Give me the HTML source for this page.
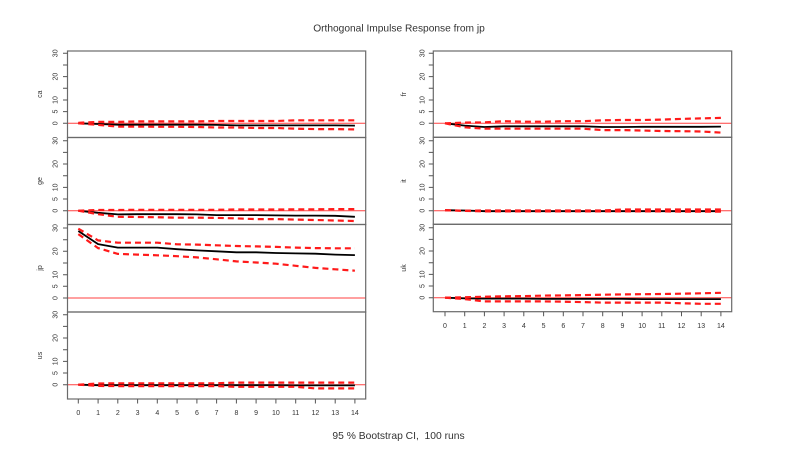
<!DOCTYPE html>
<html><head><meta charset="utf-8"><style>
html,body{margin:0;padding:0;background:#fff;}
svg{display:block;}
text{font-family:"Liberation Sans",Arial,sans-serif;fill:#333;}
.t{font-size:7px;}
.bx{fill:none;stroke:#6a6a6a;stroke-width:1.2;}
.tk{stroke:#555;stroke-width:1;}
.z{stroke:#ff4040;stroke-width:1;}
.b{fill:none;stroke:#000;stroke-width:1.8;stroke-linejoin:round;}
.r{fill:none;stroke:#ff1a1a;stroke-width:2.2;stroke-dasharray:6 4;}
</style></head><body>
<svg width="800" height="450" viewBox="0 0 800 450" xmlns="http://www.w3.org/2000/svg">
<rect width="800" height="450" fill="#fff"/>
<text x="399" y="31.5" font-size="10.2" text-anchor="middle">Orthogonal Impulse Response from jp</text>
<text x="398.5" y="439" font-size="10.3" text-anchor="middle">95 % Bootstrap CI, &#160;100 runs</text>

<!-- zero lines -->
<line class="z" x1="67.5" x2="365.7" y1="123.3" y2="123.3"/>
<line class="z" x1="67.5" x2="365.7" y1="210.7" y2="210.7"/>
<line class="z" x1="67.5" x2="365.7" y1="298" y2="298"/>
<line class="z" x1="67.5" x2="365.7" y1="384.7" y2="384.7"/>
<line class="z" x1="433.3" x2="731.7" y1="123.3" y2="123.3"/>
<line class="z" x1="433.3" x2="731.7" y1="210.7" y2="210.7"/>
<line class="z" x1="433.3" x2="731.7" y1="297.7" y2="297.7"/>

<!-- ca -->
<polyline class="b" points="78.3,123.3 98.1,124.0 117.8,124.7 137.6,124.7 157.3,124.7 177.1,124.7 196.9,124.7 216.6,124.9 236.4,125.4 256.1,125.4 275.9,125.4 295.7,125.4 315.4,125.4 335.2,125.4 354.9,125.6"/>
<polyline class="r" points="78.3,122.8 98.1,121.9 117.8,121.9 137.6,121.4 157.3,121.4 177.1,121.4 196.9,121.4 216.6,121.0 236.4,121.0 256.1,121.0 275.9,121.0 295.7,120.3 315.4,120.3 335.2,120.3 354.9,120.3"/>
<polyline class="r" points="78.3,123.3 98.1,124.9 117.8,126.6 137.6,126.6 157.3,126.8 177.1,126.8 196.9,127.0 216.6,127.5 236.4,127.5 256.1,128.0 275.9,128.0 295.7,128.7 315.4,129.1 335.2,129.1 354.9,129.4"/>
<!-- ge -->
<polyline class="b" points="78.3,210.7 98.1,212.8 117.8,214.4 137.6,214.2 157.3,214.2 177.1,214.2 196.9,214.4 216.6,215.1 236.4,215.1 256.1,215.1 275.9,215.4 295.7,215.6 315.4,215.6 335.2,215.8 354.9,216.8"/>
<polyline class="r" points="78.3,210.7 98.1,210.0 117.8,210.0 137.6,209.8 157.3,209.8 177.1,209.8 196.9,209.8 216.6,209.8 236.4,209.5 256.1,209.5 275.9,209.5 295.7,209.3 315.4,209.3 335.2,209.1 354.9,209.1"/>
<polyline class="r" points="78.3,210.7 98.1,214.2 117.8,216.8 137.6,217.0 157.3,217.2 177.1,217.7 196.9,217.7 216.6,217.9 236.4,218.4 256.1,219.1 275.9,219.1 295.7,219.6 315.4,220.0 335.2,220.5 354.9,221.0"/>
<!-- jp -->
<polyline class="b" points="78.3,231.0 98.1,244.1 117.8,247.6 137.6,247.6 157.3,247.6 177.1,249.2 196.9,250.4 216.6,251.3 236.4,252.3 256.1,252.3 275.9,253.0 295.7,253.4 315.4,253.7 335.2,254.6 354.9,255.1"/>
<polyline class="r" points="78.3,228.7 98.1,240.4 117.8,242.7 137.6,242.7 157.3,242.7 177.1,244.3 196.9,244.6 216.6,245.3 236.4,246.0 256.1,246.4 275.9,246.9 295.7,247.6 315.4,248.1 335.2,248.3 354.9,248.3"/>
<polyline class="r" points="78.3,234.1 98.1,248.1 117.8,253.9 137.6,254.6 157.3,255.3 177.1,256.2 196.9,257.4 216.6,259.3 236.4,261.4 256.1,262.5 275.9,263.7 295.7,265.8 315.4,267.9 335.2,269.3 354.9,270.7"/>
<!-- us -->
<polyline class="b" points="78.3,384.7 98.1,385.2 117.8,385.2 137.6,385.2 157.3,385.2 177.1,385.2 196.9,385.2 216.6,385.2 236.4,385.2 256.1,385.2 275.9,385.2 295.7,385.4 315.4,385.4 335.2,385.4 354.9,385.4"/>
<polyline class="r" points="78.3,384.7 98.1,383.5 117.8,383.3 137.6,383.3 157.3,383.3 177.1,383.3 196.9,383.3 216.6,383.3 236.4,382.6 256.1,382.6 275.9,382.6 295.7,382.6 315.4,382.6 335.2,382.6 354.9,382.6"/>
<polyline class="r" points="78.3,384.7 98.1,385.9 117.8,386.1 137.6,386.1 157.3,386.1 177.1,386.1 196.9,386.1 216.6,386.1 236.4,386.8 256.1,386.8 275.9,386.8 295.7,386.8 315.4,388.4 335.2,388.4 354.9,388.4"/>

<!-- fr -->
<polyline class="b" points="445,123.3 464.7,125.6 484.4,127.0 504.1,126.3 523.8,126.3 543.6,126.3 563.3,126.3 583,126.3 602.7,127.0 622.4,127.0 642.1,126.8 661.8,126.8 681.5,126.8 701.2,126.8 720.9,126.6"/>
<polyline class="r" points="445,123.3 464.7,122.6 484.4,122.4 504.1,121.2 523.8,121.7 543.6,121.7 563.3,121.2 583,121.2 602.7,120.3 622.4,120.0 642.1,120.0 661.8,119.6 681.5,118.9 701.2,118.4 720.9,117.9"/>
<polyline class="r" points="445,123.3 464.7,127.3 484.4,128.7 504.1,128.7 523.8,128.7 543.6,128.7 563.3,128.7 583,128.7 602.7,130.1 622.4,130.1 642.1,130.5 661.8,131.0 681.5,131.2 701.2,131.5 720.9,132.6"/>
<!-- it -->
<polyline class="b" points="445,210.2 464.7,210.5 484.4,211.2 504.1,211.2 523.8,211.2 543.6,211.2 563.3,211.2 583,211.2 602.7,211.2 622.4,211.2 642.1,211.2 661.8,211.2 681.5,211.2 701.2,211.2 720.9,211.2"/>
<polyline class="r" points="445,210.2 464.7,210.7 484.4,210.5 504.1,210.5 523.8,210.5 543.6,210.5 563.3,210.5 583,210.5 602.7,210.5 622.4,209.5 642.1,209.5 661.8,209.5 681.5,209.5 701.2,209.5 720.9,209.5"/>
<polyline class="r" points="445,210.2 464.7,210.9 484.4,211.4 504.1,211.4 523.8,211.4 543.6,211.4 563.3,211.4 583,211.4 602.7,211.4 622.4,211.4 642.1,211.4 661.8,211.4 681.5,211.6 701.2,211.6 720.9,211.6"/>
<!-- uk -->
<polyline class="b" points="445,297.7 464.7,298.4 484.4,298.6 504.1,298.6 523.8,298.6 543.6,298.9 563.3,298.9 583,298.9 602.7,298.9 622.4,298.9 642.1,299.1 661.8,299.1 681.5,299.1 701.2,299.1 720.9,299.1"/>
<polyline class="r" points="445,297.7 464.7,297.2 484.4,296.8 504.1,296.3 523.8,296.1 543.6,295.6 563.3,295.4 583,295.1 602.7,294.7 622.4,294.4 642.1,294.2 661.8,294.0 681.5,293.7 701.2,293.3 720.9,292.8"/>
<polyline class="r" points="445,297.7 464.7,299.1 484.4,301.4 504.1,301.4 523.8,301.4 543.6,301.4 563.3,301.7 583,302.1 602.7,302.6 622.4,302.6 642.1,302.6 661.8,302.6 681.5,303.3 701.2,303.8 720.9,303.8"/>

<!-- boxes -->
<rect class="bx" x="67.5" y="51" width="298.2" height="86.5"/>
<rect class="bx" x="67.5" y="137.5" width="298.2" height="87"/>
<rect class="bx" x="67.5" y="224.5" width="298.2" height="87.5"/>
<rect class="bx" x="67.5" y="312" width="298.2" height="87"/>
<rect class="bx" x="433.3" y="51" width="298.4" height="86.3"/>
<rect class="bx" x="433.3" y="137.3" width="298.4" height="87"/>
<rect class="bx" x="433.3" y="224.3" width="298.4" height="87.4"/>

<!-- y axes: left -->
<g class="tk">
<path d="M63,53.3H67.5M63,65H67.5M63,76.6H67.5M63,88.3H67.5M63,100H67.5M63,111.6H67.5M63,123.3H67.5"/>
<path d="M63,140.7H67.5M63,152.4H67.5M63,164H67.5M63,175.7H67.5M63,187.4H67.5M63,199H67.5M63,210.7H67.5"/>
<path d="M63,228H67.5M63,239.7H67.5M63,251.3H67.5M63,263H67.5M63,274.7H67.5M63,286.3H67.5M63,298H67.5"/>
<path d="M63,314.7H67.5M63,326.4H67.5M63,338H67.5M63,349.7H67.5M63,361.4H67.5M63,373H67.5M63,384.7H67.5"/>
<path d="M428.8,53.3H433.3M428.8,65H433.3M428.8,76.6H433.3M428.8,88.3H433.3M428.8,100H433.3M428.8,111.6H433.3M428.8,123.3H433.3"/>
<path d="M428.8,140.7H433.3M428.8,152.4H433.3M428.8,164H433.3M428.8,175.7H433.3M428.8,187.4H433.3M428.8,199H433.3M428.8,210.7H433.3"/>
<path d="M428.8,227.7H433.3M428.8,239.4H433.3M428.8,251H433.3M428.8,262.7H433.3M428.8,274.4H433.3M428.8,286H433.3M428.8,297.7H433.3"/>
<!-- x ticks -->
<path d="M78.3,399V403.5M98.1,399V403.5M117.8,399V403.5M137.6,399V403.5M157.3,399V403.5M177.1,399V403.5M196.9,399V403.5M216.6,399V403.5M236.4,399V403.5M256.1,399V403.5M275.9,399V403.5M295.7,399V403.5M315.4,399V403.5M335.2,399V403.5M354.9,399V403.5"/>
<path d="M445,311.7V316.2M464.7,311.7V316.2M484.4,311.7V316.2M504.1,311.7V316.2M523.8,311.7V316.2M543.6,311.7V316.2M563.3,311.7V316.2M583,311.7V316.2M602.7,311.7V316.2M622.4,311.7V316.2M642.1,311.7V316.2M661.8,311.7V316.2M681.5,311.7V316.2M701.2,311.7V316.2M720.9,311.7V316.2"/>
</g>

<!-- y tick labels left -->
<g class="t" text-anchor="middle">
<text transform="translate(57.5,53.3) rotate(-90)">30</text>
<text transform="translate(57.5,76.6) rotate(-90)">20</text>
<text transform="translate(57.5,100) rotate(-90)">10</text>
<text transform="translate(57.5,111.6) rotate(-90)">5</text>
<text transform="translate(57.5,123.3) rotate(-90)">0</text>

<text transform="translate(57.5,140.7) rotate(-90)">30</text>
<text transform="translate(57.5,164) rotate(-90)">20</text>
<text transform="translate(57.5,187.4) rotate(-90)">10</text>
<text transform="translate(57.5,199) rotate(-90)">5</text>
<text transform="translate(57.5,210.7) rotate(-90)">0</text>

<text transform="translate(57.5,228) rotate(-90)">30</text>
<text transform="translate(57.5,251.3) rotate(-90)">20</text>
<text transform="translate(57.5,274.7) rotate(-90)">10</text>
<text transform="translate(57.5,286.3) rotate(-90)">5</text>
<text transform="translate(57.5,298) rotate(-90)">0</text>

<text transform="translate(57.5,314.7) rotate(-90)">30</text>
<text transform="translate(57.5,338) rotate(-90)">20</text>
<text transform="translate(57.5,361.4) rotate(-90)">10</text>
<text transform="translate(57.5,373) rotate(-90)">5</text>
<text transform="translate(57.5,384.7) rotate(-90)">0</text>

<text transform="translate(424.3,53.3) rotate(-90)">30</text>
<text transform="translate(424.3,76.6) rotate(-90)">20</text>
<text transform="translate(424.3,100) rotate(-90)">10</text>
<text transform="translate(424.3,111.6) rotate(-90)">5</text>
<text transform="translate(424.3,123.3) rotate(-90)">0</text>

<text transform="translate(424.3,140.7) rotate(-90)">30</text>
<text transform="translate(424.3,164) rotate(-90)">20</text>
<text transform="translate(424.3,187.4) rotate(-90)">10</text>
<text transform="translate(424.3,199) rotate(-90)">5</text>
<text transform="translate(424.3,210.7) rotate(-90)">0</text>

<text transform="translate(424.3,227.7) rotate(-90)">30</text>
<text transform="translate(424.3,251) rotate(-90)">20</text>
<text transform="translate(424.3,274.4) rotate(-90)">10</text>
<text transform="translate(424.3,286) rotate(-90)">5</text>
<text transform="translate(424.3,297.7) rotate(-90)">0</text>

<!-- y axis titles -->
<text transform="translate(42.2,94.2) rotate(-90)">ca</text>
<text transform="translate(42.2,181) rotate(-90)">ge</text>
<text transform="translate(42.2,268) rotate(-90)">jp</text>
<text transform="translate(42.2,355.5) rotate(-90)">us</text>
<text transform="translate(405.8,94.2) rotate(-90)">fr</text>
<text transform="translate(405.8,181) rotate(-90)">it</text>
<text transform="translate(405.8,268) rotate(-90)">uk</text>

<!-- x tick labels -->
<text x="78.3" y="414.8">0</text><text x="98.1" y="414.8">1</text><text x="117.8" y="414.8">2</text><text x="137.6" y="414.8">3</text><text x="157.3" y="414.8">4</text><text x="177.1" y="414.8">5</text><text x="196.9" y="414.8">6</text><text x="216.6" y="414.8">7</text><text x="236.4" y="414.8">8</text><text x="256.1" y="414.8">9</text><text x="275.9" y="414.8">10</text><text x="295.7" y="414.8">11</text><text x="315.4" y="414.8">12</text><text x="335.2" y="414.8">13</text><text x="354.9" y="414.8">14</text>
<text x="445" y="328.2">0</text><text x="464.7" y="328.2">1</text><text x="484.4" y="328.2">2</text><text x="504.1" y="328.2">3</text><text x="523.8" y="328.2">4</text><text x="543.6" y="328.2">5</text><text x="563.3" y="328.2">6</text><text x="583" y="328.2">7</text><text x="602.7" y="328.2">8</text><text x="622.4" y="328.2">9</text><text x="642.1" y="328.2">10</text><text x="661.8" y="328.2">11</text><text x="681.5" y="328.2">12</text><text x="701.2" y="328.2">13</text><text x="720.9" y="328.2">14</text>
</g>
</svg>
</body></html>
